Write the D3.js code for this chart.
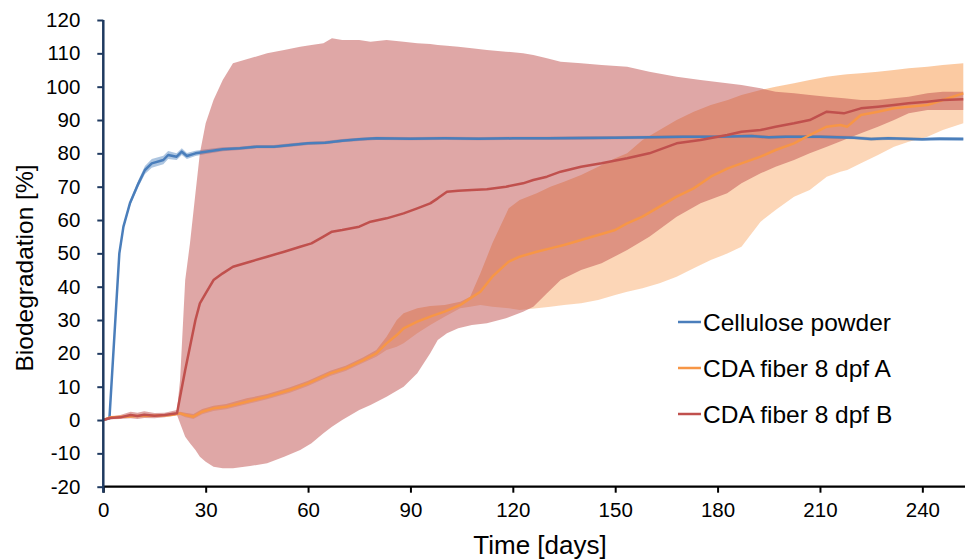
<!DOCTYPE html>
<html>
<head>
<meta charset="utf-8">
<script src="https://cdn.jsdelivr.net/npm/d3@7"></script>
<style>
  body { margin: 0; background: #fff; }
  svg { display: block; font-family: "Liberation Sans", Arial, sans-serif; }
</style>
</head>
<body>
<div id="chart"></div>
<script>
  "use strict";

  // Cellulose powder (reference)
  var celluloseDays = [0, 1.8, 4.7, 5.9, 7.8, 10.3, 12.2, 14.2, 17.6, 19, 21.5, 23, 24.5, 27, 30, 35, 40, 45, 50, 55, 60, 65, 70, 75, 80, 90, 100, 110, 120, 130, 140, 150, 160, 170, 180, 190, 195, 200, 210, 220, 225, 230, 240, 245, 252];
  var celluloseMean = [0, 0.5, 50, 58, 65, 71, 75, 77, 78, 79.5, 79, 80.5, 79.2, 80, 80.5, 81.2, 81.5, 82, 82, 82.5, 83, 83.2, 83.8, 84.2, 84.5, 84.4, 84.5, 84.4, 84.5, 84.5, 84.6, 84.7, 84.8, 85, 85, 85.2, 84.8, 85, 85, 84.7, 84.3, 84.5, 84.2, 84.4, 84.3];
  var celluloseSd = [0, 0.2, 0.5, 0.6, 0.8, 1, 1.2, 1.3, 1.3, 1.2, 1, 1, 0.9, 0.8, 0.7, 0.6, 0.5, 0.5, 0.5, 0.5, 0.5, 0.5, 0.5, 0.5, 0.5, 0.5, 0.5, 0.5, 0.5, 0.5, 0.5, 0.5, 0.5, 0.5, 0.5, 0.5, 0.5, 0.5, 0.5, 0.5, 0.5, 0.5, 0.5, 0.5, 0.5];

  // CDA fiber 8 dpf A
  var fiberADays = [0, 2, 6, 10, 15, 20, 22.5, 24, 26.4, 29, 32.3, 36, 42, 48, 54.7, 60, 66.5, 71, 76.2, 80, 83, 86, 88, 92, 95.8, 100, 104.6, 107.5, 110.5, 114, 118.8, 122, 127, 131, 135, 140, 145, 150, 153.5, 158, 163, 168, 173, 178, 183, 187, 192.6, 197, 202.4, 207, 212, 216, 218, 222, 227, 231.7, 236, 241.5, 246, 252];
  var fiberAMean = [0, 0.8, 1, 1.2, 1.3, 1.5, 2, 1.5, 1, 2.5, 3.5, 4, 5.5, 7, 9, 11, 14, 15.5, 18, 20, 23, 25.5, 27.5, 29.5, 31, 32.5, 34.5, 36.5, 38.5, 43, 47.5, 49, 50.5, 51.5, 52.5, 54, 55.5, 57, 59, 61, 64, 67, 69.5, 73, 75.5, 77, 79, 81, 83, 85.5, 88, 88.5, 88, 91.5, 92.5, 93.5, 94, 94.5, 96, 98];
  var fiberALower = [0, 0.5, 0.7, 0.9, 1, 1.2, 1.5, 0.8, 0.3, 1.7, 2.7, 3.2, 4.7, 6.2, 8.2, 10.2, 13.2, 14.7, 17.2, 19, 21, 22, 23, 26, 28.5, 31, 33.5, 34, 34.5, 34, 33.5, 33, 33.5, 34, 34.5, 35, 36, 37.5, 38.5, 39.5, 41, 43, 45.5, 48, 50, 52, 59.5, 63, 67, 69, 73, 74.5, 75, 77, 79.5, 82, 83.5, 85, 87, 89];
  var fiberAUpper = [0, 1.1, 1.3, 1.5, 1.6, 1.8, 2.5, 2.2, 1.8, 3.3, 4.3, 4.8, 6.5, 7.8, 9.8, 11.8, 14.8, 16.3, 18.8, 21, 25, 30, 32, 33.5, 34.2, 34.5, 35.5, 37, 44, 53, 63.5, 66, 68, 70, 71.5, 73.5, 76, 78.5, 80, 84, 87, 90, 92.5, 94.5, 96, 97.5, 99, 100, 101, 102, 103, 103.5, 103.7, 104, 104.5, 105, 105.5, 106, 106.5, 107];

  // CDA fiber 8 dpf B
  var fiberBDays = [0, 2, 5, 8, 10, 12, 15, 18, 21.6, 22.5, 24, 25.4, 27, 28.3, 30, 32.3, 35, 38, 43, 48, 53, 57.7, 61, 64.5, 67, 70, 75, 78.3, 83, 88, 92, 95.8, 98, 100.7, 104, 108, 112.4, 118, 123, 126, 130, 134, 140, 146, 153.5, 160, 168, 175, 182.8, 187, 192.6, 197, 202.4, 207, 212, 217, 222, 227, 231.7, 236, 241.5, 246, 252];
  var fiberBMean = [0, 0.6, 0.8, 1.5, 1.2, 1.6, 1.3, 1.5, 2, 7, 15, 22, 30, 35, 38, 42, 44, 46, 47.5, 49, 50.5, 52, 53, 55, 56.5, 57, 58, 59.5, 60.5, 62, 63.5, 65, 66.5, 68.5, 68.8, 69, 69.2, 70, 71, 72, 73, 74.5, 76, 77, 78.5, 80, 83, 84, 85.5, 86.5, 87, 88, 89, 90, 92.5, 92, 93.5, 94, 94.5, 95, 95.5, 96, 96.2];
  var fiberBLower = [0, 0.2, 0.3, 0.5, 0.3, 0.6, 0.5, 0.8, 1.5, -1, -5, -7, -9, -11, -12.5, -14, -14.5, -14.5, -13.8, -13, -11, -9, -7, -4, -2, 0, 3, 4.5, 7, 10, 14, 20, 24, 26, 27.5, 28.5, 29, 30.5, 32.5, 34, 38, 42, 45, 47, 51, 55, 61, 65, 68, 71, 74, 76, 78, 80, 82, 84, 86, 88, 90, 92, 93, 93, 93];
  var fiberBUpper = [0, 1, 1.5, 2.5, 2.2, 2.6, 2.1, 2.2, 3, 12, 42, 53, 68, 80, 89, 96, 102, 107, 108.5, 110, 111, 112, 112.5, 113, 114.5, 114, 114, 113.5, 114, 113.5, 113, 112.8, 112.5, 112.3, 112, 111.5, 111, 110.5, 110, 109.5, 108.5, 107.5, 107, 106.5, 106, 104.5, 103, 102, 101, 100.5, 99.5, 98.5, 98, 97.5, 97, 96.5, 96, 96, 96.5, 97, 98, 98.5, 98.5];

  var seriesNames = ["Cellulose powder", "CDA fiber 8 dpf A", "CDA fiber 8 dpf B"];
  var seriesColors = ["#4a7ebb", "#f79646", "#c0504d"];

  var xTicks = [0, 30, 60, 90, 120, 150, 180, 210, 240];
  var yTicks = [-20, -10, 0, 10, 20, 30, 40, 50, 60, 70, 80, 90, 100, 110, 120];

  var width = 970, height = 560;
  var x = d3.scaleLinear().domain([0, 252.5]).range([103.3, 965]);
  var y = d3.scaleLinear().domain([-20, 120]).range([486.7, 20]);

  var svg = d3.select("#chart").append("svg")
      .attr("width", width)
      .attr("height", height);

  function zipBand(days, lower, upper) {
    return days.map(function (d, i) { return { day: d, lo: lower[i], hi: upper[i] }; });
  }

  var band = d3.area()
      .x(function (d) { return x(d.day); })
      .y0(function (d) { return y(d.lo); })
      .y1(function (d) { return y(d.hi); });

  var line = d3.line()
      .x(function (d) { return x(d.day); })
      .y(function (d) { return y(d.v); });

  var plot = svg.append("g");

  // bands
  var celluloseBand = zipBand(celluloseDays,
    celluloseMean.map(function (m, i) { return m - celluloseSd[i]; }),
    celluloseMean.map(function (m, i) { return m + celluloseSd[i]; }));
  plot.append("path").attr("d", band(celluloseBand))
      .attr("fill", seriesColors[0]).attr("fill-opacity", 0.45);

  // A band: lower half slightly lighter than upper half
  plot.append("path").attr("d", band(zipBand(fiberADays, fiberALower, fiberAMean)))
      .attr("fill", seriesColors[1]).attr("fill-opacity", 0.39);
  plot.append("path").attr("d", band(zipBand(fiberADays, fiberAMean, fiberAUpper)))
      .attr("fill", seriesColors[1]).attr("fill-opacity", 0.5);

  plot.append("path").attr("d", band(zipBand(fiberBDays, fiberBLower, fiberBUpper)))
      .attr("fill", seriesColors[2]).attr("fill-opacity", 0.5);

  // mean lines
  var means = [
    [celluloseDays, celluloseMean],
    [fiberADays, fiberAMean],
    [fiberBDays, fiberBMean]
  ];
  means.forEach(function (s, k) {
    var pts = s[0].map(function (d, i) { return { day: d, v: s[1][i] }; });
    plot.append("path")
        .attr("d", line(pts))
        .attr("fill", "none")
        .attr("stroke", seriesColors[k])
        .attr("stroke-width", 2.5)
        .attr("stroke-linejoin", "round");
  });

  // axes
  var xAxis = svg.append("g")
      .attr("transform", "translate(0," + y(-20) + ")")
      .call(d3.axisBottom(x).tickValues(xTicks).tickSize(6).tickPadding(10).tickSizeOuter(0));
  xAxis.select(".domain").attr("stroke", "#000").attr("stroke-width", 2.2)
      .attr("d", "M" + x(0) + ",0H965");
  xAxis.selectAll(".tick line").attr("stroke", "#000").attr("stroke-width", 2);
  xAxis.selectAll("text").attr("font-size", 20.5).attr("fill", "#000")
      .attr("font-family", "Liberation Sans, Arial, sans-serif");

  var yAxis = svg.append("g")
      .attr("transform", "translate(" + x(0) + ",0)")
      .call(d3.axisLeft(y).tickValues(yTicks).tickSize(6).tickPadding(17).tickSizeOuter(0)
        .tickFormat(function (d) { return d < 0 ? "-" + Math.abs(d) : String(d); }));
  yAxis.select(".domain").attr("stroke", "#1f3a60").attr("stroke-width", 2.5)
      .attr("d", "M0," + y(120) + "V" + (y(-20) + 6));
  yAxis.selectAll(".tick line").attr("stroke", "#1f3a60").attr("stroke-width", 2);
  yAxis.selectAll("text").attr("font-size", 20.5).attr("fill", "#000")
      .attr("font-family", "Liberation Sans, Arial, sans-serif");

  // axis titles
  svg.append("text")
      .attr("transform", "translate(33,268) rotate(-90)")
      .attr("text-anchor", "middle")
      .attr("font-size", 24.5)
      .text("Biodegradation [%]");

  svg.append("text")
      .attr("x", 540)
      .attr("y", 554)
      .attr("text-anchor", "middle")
      .attr("font-size", 26)
      .text("Time [days]");

  // legend
  var legend = svg.append("g");
  seriesNames.forEach(function (name, i) {
    var ly = 322 + i * 46;
    legend.append("line")
        .attr("x1", 678).attr("x2", 701)
        .attr("y1", ly).attr("y2", ly)
        .attr("stroke", seriesColors[i])
        .attr("stroke-width", 2.5);
    legend.append("text")
        .attr("x", 703)
        .attr("y", ly + 8.5)
        .attr("font-size", 24.5)
        .text(name);
  });
</script>
</body>
</html>
